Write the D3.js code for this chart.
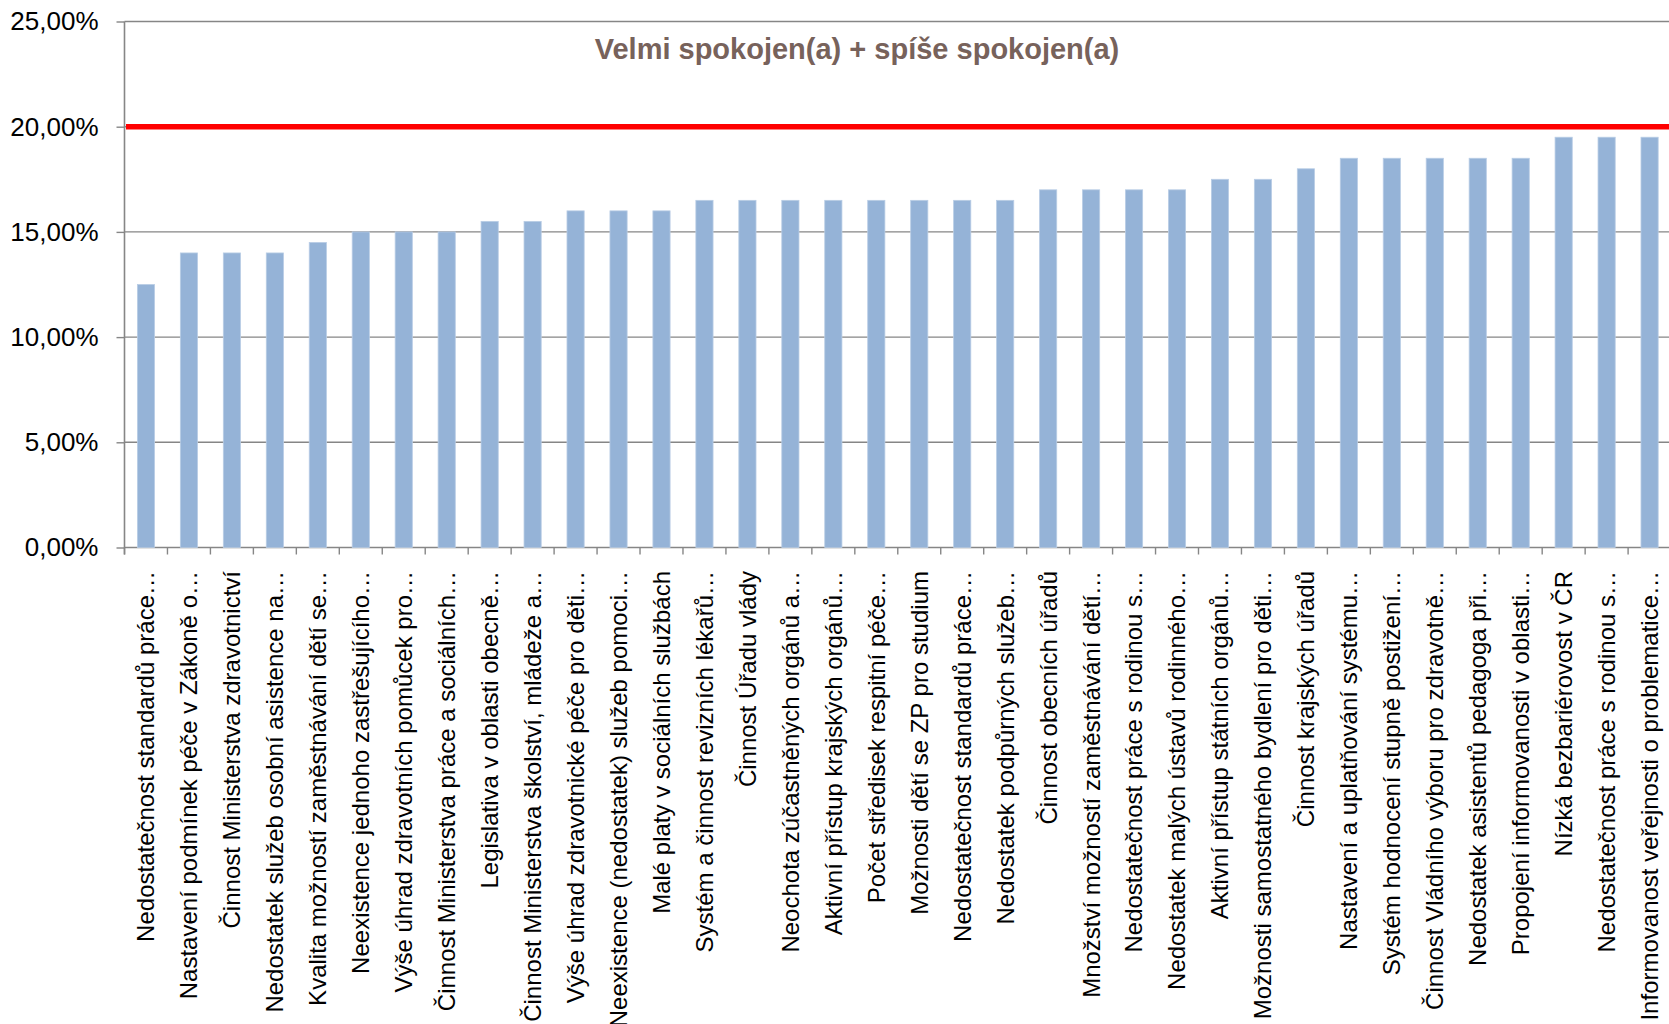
<!DOCTYPE html>
<html>
<head>
<meta charset="utf-8">
<script src="https://cdn.jsdelivr.net/npm/d3@7"></script>
<style>
  body { margin: 0; background: #fff; }
  svg { display: block; font-family: "Liberation Sans", Arial, sans-serif; }
</style>
</head>
<body>
<div id="chart"></div>
<script>
var width = 1669;
var height = 1024;

// categories (in chart order)
var categories = [
  "Nedostatečnost standardů práce…",
  "Nastavení podmínek péče v Zákoně o…",
  "Činnost Ministerstva zdravotnictví",
  "Nedostatek služeb osobní asistence na…",
  "Kvalita možností zaměstnávání dětí se…",
  "Neexistence jednoho zastřešujícího…",
  "Výše úhrad zdravotních pomůcek pro…",
  "Činnost Ministerstva práce a sociálních…",
  "Legislativa v oblasti obecně…",
  "Činnost Ministerstva školství, mládeže a…",
  "Výše úhrad zdravotnické péče pro děti…",
  "Neexistence (nedostatek) služeb pomoci…",
  "Malé platy v sociálních službách",
  "Systém a činnost revizních lékařů…",
  "Činnost Úřadu vlády",
  "Neochota zúčastněných orgánů a…",
  "Aktivní přístup krajských orgánů…",
  "Počet středisek respitní péče…",
  "Možnosti dětí se ZP pro studium",
  "Nedostatečnost standardů práce…",
  "Nedostatek podpůrných služeb…",
  "Činnost obecních úřadů",
  "Množství možností zaměstnávání dětí…",
  "Nedostatečnost práce s rodinou s…",
  "Nedostatek malých ústavů rodinného…",
  "Aktivní přístup státních orgánů…",
  "Možnosti samostatného bydlení pro děti…",
  "Činnost krajských úřadů",
  "Nastavení a uplatňování systému…",
  "Systém hodnocení stupně postižení…",
  "Činnost Vládního výboru pro zdravotně…",
  "Nedostatek asistentů pedagoga při…",
  "Propojení informovanosti v oblasti…",
  "Nízká bezbariérovost v ČR",
  "Nedostatečnost práce s rodinou s…",
  "Informovanost veřejnosti o problematice…"
];

// share of "velmi spokojen + spíše spokojen"
var values = [
  0.125, 0.14, 0.14, 0.14, 0.145, 0.15, 0.15, 0.15, 0.155, 0.155,
  0.16, 0.16, 0.16, 0.165, 0.165, 0.165, 0.165, 0.165, 0.165, 0.165,
  0.165, 0.17, 0.17, 0.17, 0.17, 0.175, 0.175, 0.18, 0.185, 0.185,
  0.185, 0.185, 0.185, 0.195, 0.195, 0.195
];

var threshold = 0.20;
var yTicks = [0, 0.05, 0.10, 0.15, 0.20, 0.25];
var title = "Velmi spokojen(a) + spíše spokojen(a)";

var plotLeft = 124.5, plotTop = 21.5, plotBottom = 547.5;
var step = 42.96;
var plotRight = plotLeft + step * categories.length;

var svg = d3.select("#chart")
  .append("svg")
  .attr("width", width)
  .attr("height", height);

var xScale = d3.scaleBand()
  .domain(d3.range(categories.length))
  .range([plotLeft, plotRight])
  .paddingInner(0.6)
  .paddingOuter(0.3);

var yScale = d3.scaleLinear()
  .domain([0, 0.25])
  .range([plotBottom, plotTop]);

var pct = function(v) {
  return d3.format(".2f")(v * 100).replace(".", ",") + "%";
};

// gridlines
svg.append("g")
  .selectAll("line")
  .data(yTicks)
  .enter()
  .append("line")
  .attr("x1", plotLeft)
  .attr("x2", plotRight)
  .attr("y1", function(d) { return yScale(d); })
  .attr("y2", function(d) { return yScale(d); })
  .attr("stroke", "#868686")
  .attr("stroke-width", 1.4);

// y axis
var yAxis = d3.axisLeft(yScale)
  .tickValues(yTicks)
  .tickFormat(pct)
  .tickSize(8)
  .tickPadding(18)
  .tickSizeOuter(0);

var yg = svg.append("g")
  .attr("transform", "translate(" + plotLeft + ",0)")
  .call(yAxis);
yg.select(".domain").remove();
yg.selectAll(".tick line").attr("stroke", "#868686").attr("stroke-width", 1.4);
yg.selectAll(".tick text")
  .attr("fill", "#000")
  .style("font-size", "26px")
  .style("font-family", "'Liberation Sans', Arial, sans-serif");

// vertical axis line
svg.append("line")
  .attr("x1", plotLeft).attr("x2", plotLeft)
  .attr("y1", plotTop).attr("y2", plotBottom + 7)
  .attr("stroke", "#868686")
  .attr("stroke-width", 1.6);

// category boundary ticks
svg.append("g")
  .selectAll("line")
  .data(d3.range(categories.length + 1))
  .enter()
  .append("line")
  .attr("x1", function(i) { return plotLeft + i * xScale.step(); })
  .attr("x2", function(i) { return plotLeft + i * xScale.step(); })
  .attr("y1", plotBottom)
  .attr("y2", plotBottom + 7)
  .attr("stroke", "#868686")
  .attr("stroke-width", 1.4);

// bars
svg.append("g")
  .selectAll("rect")
  .data(values)
  .enter()
  .append("rect")
  .attr("x", function(d, i) { return xScale(i); })
  .attr("width", xScale.bandwidth())
  .attr("y", function(d) { return yScale(d); })
  .attr("height", function(d) { return plotBottom - yScale(d); })
  .attr("fill", "#95b3d7")
  .attr("stroke", "#b9cde5")
  .attr("stroke-width", 0.8);

// red 20 % line
var line = d3.line()
  .x(function(d) { return d; })
  .y(function() { return yScale(threshold); });
svg.append("path")
  .attr("d", line([plotLeft + 1.5, plotRight]))
  .attr("stroke", "#ff0000")
  .attr("stroke-width", 5.5)
  .attr("fill", "none");

// category labels
svg.append("g")
  .selectAll("text")
  .data(categories)
  .enter()
  .append("text")
  .attr("transform", function(d, i) {
    return "translate(" + (xScale(i) + xScale.bandwidth() / 2) + "," + 571 + ") rotate(-90)";
  })
  .attr("dy", "0.35em")
  .style("text-anchor", "end")
  .style("font-size", "24px")
  .attr("fill", "#000")
  .text(function(d) { return d; });

// title
svg.append("text")
  .attr("x", 857)
  .attr("y", 59)
  .style("text-anchor", "middle")
  .style("font-size", "29px")
  .style("font-weight", "bold")
  .attr("fill", "#77625b")
  .text(title);
</script>
</body>
</html>
